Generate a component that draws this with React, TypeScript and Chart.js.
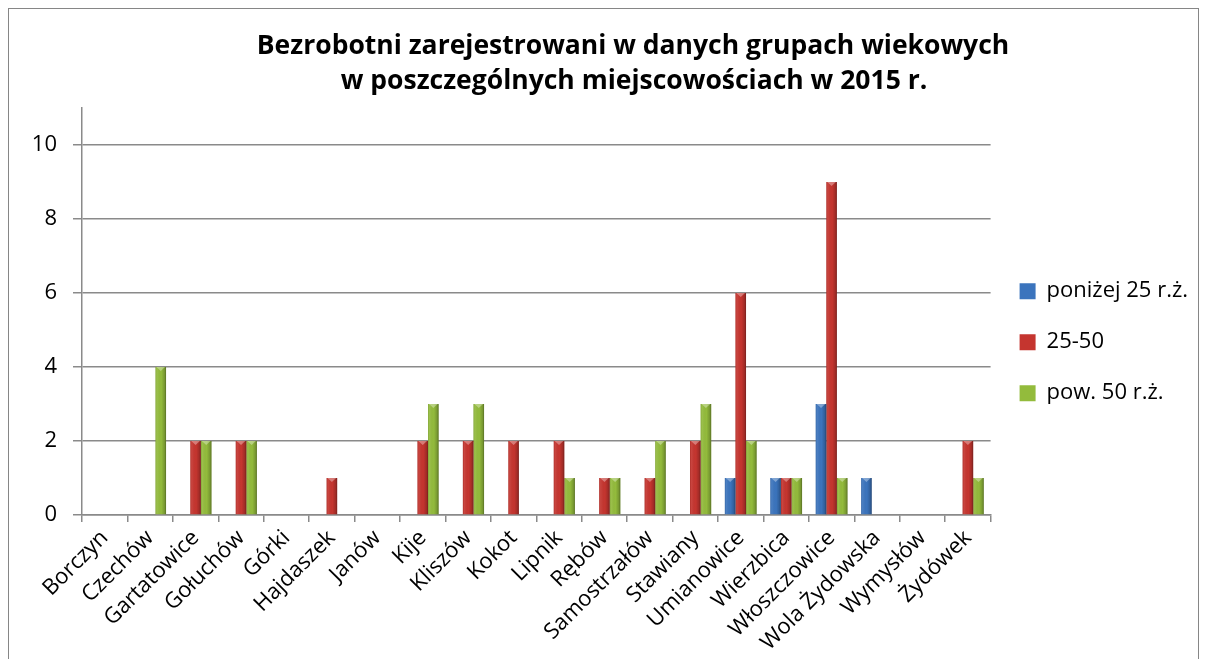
import React, { useEffect, useRef } from 'react';
import { Chart, registerables } from 'chart.js';

Chart.register(...registerables);

const categories = [
  'Borczyn', 'Czechów', 'Gartatowice', 'Gołuchów', 'Górki', 'Hajdaszek', 'Janów', 'Kije', 'Kliszów', 'Kokot',
  'Lipnik', 'Rębów', 'Samostrzałów', 'Stawiany', 'Umianowice', 'Wierzbica', 'Włoszczowice', 'Wola Żydowska', 'Wymysłów', 'Żydówek',
];
const under25 = [0, 0, 0, 0, 0, 0, 0, 0, 0, 0, 0, 0, 0, 0, 1, 1, 3, 1, 0, 0];
const age25to50 = [0, 0, 2, 2, 0, 1, 0, 2, 2, 2, 2, 1, 1, 2, 6, 1, 9, 0, 0, 2];
const over50 = [0, 4, 2, 2, 0, 0, 0, 3, 3, 0, 1, 1, 2, 3, 2, 1, 1, 0, 0, 1];
const seriesNames = ['poniżej 25 r.ż.', '25-50', 'pow. 50 r.ż.'];
const titleLines = ['Bezrobotni zarejestrowani w danych grupach wiekowych', 'w poszczególnych miejscowościach w 2015 r.'];
const yTickValues = [0, 2, 4, 6, 8, 10];

const FONT = '"Open Sans", sans-serif';
const GRID = '#8a8a8a';

const titlePlugin = {
  id: 'customTitle',
  afterDraw(chart: any) {
    const ctx = chart.ctx;
    ctx.save();
    ctx.fillStyle = '#000';
    ctx.font = `bold 26.5px ${FONT}`;
    ctx.textAlign = 'center';
    ctx.textBaseline = 'alphabetic';
    ctx.fillText(titleLines[0], 624, 45);
    ctx.fillText(titleLines[1], 625, 80);
    ctx.restore();
  },
};

const shadePlugin = {
  id: 'barShade',
  afterDatasetsDraw(chart: any) {
    const ctx = chart.ctx;
    ctx.save();
    chart.data.datasets.forEach((_: any, di: number) => {
      const meta = chart.getDatasetMeta(di);
      meta.data.forEach((el: any) => {
        const { x, y, base, width } = el.getProps(['x', 'y', 'base', 'width'], true);
        const h = base - y;
        if (h <= 0.5) return;
        const l = x - width / 2;
        const g = ctx.createLinearGradient(l, 0, l + width, 0);
        g.addColorStop(0, 'rgba(0,0,0,0.12)');
        g.addColorStop(0.15, 'rgba(255,255,255,0.08)');
        g.addColorStop(0.55, 'rgba(0,0,0,0)');
        g.addColorStop(0.85, 'rgba(0,0,0,0.18)');
        g.addColorStop(1, 'rgba(0,0,0,0.4)');
        ctx.fillStyle = g;
        ctx.fillRect(l, y, width, h);
        ctx.fillStyle = 'rgba(255,255,255,0.35)';
        ctx.beginPath();
        ctx.moveTo(l + 1, y);
        ctx.lineTo(l + width - 1, y);
        ctx.lineTo(x, y + Math.min(4, h));
        ctx.closePath();
        ctx.fill();
      });
    });
    ctx.restore();
  },
};

export default function App() {
  const ref = useRef<HTMLCanvasElement>(null);
  useEffect(() => {
    if (!ref.current) return;
    const chart = new Chart(ref.current, {
      type: 'bar',
      data: {
        labels: categories,
        datasets: [
          { label: seriesNames[0], data: under25, backgroundColor: '#3b74bd' },
          { label: seriesNames[1], data: age25to50, backgroundColor: '#c5352f' },
          { label: seriesNames[2], data: over50, backgroundColor: '#93bb3c' },
        ],
      },
      options: {
        responsive: false,
        animation: false,
        layout: { padding: { top: 99, left: 0, right: 0, bottom: 0 } },
        datasets: { bar: { categoryPercentage: 0.7, barPercentage: 1 } },
        plugins: {
          title: { display: false },
          tooltip: { enabled: false },
          legend: {
            position: 'right',
            align: 'start',
            maxWidth: 209,
            title: { display: true, text: ' ', padding: { top: 71, bottom: 71 }, font: { size: 1 } },
            labels: {
              boxWidth: 16,
              boxHeight: 16,
              padding: 29,
              color: '#000',
              font: { family: FONT, size: 22 },
            },
          },
        },
        scales: {
          x: {
            offset: true,
            grid: { offset: true, drawOnChartArea: false, tickLength: 7, color: GRID, lineWidth: 1.5 },
            border: { color: GRID, width: 1.5 },
            ticks: {
              autoSkip: false,
              maxRotation: 45,
              minRotation: 45,
              color: '#000',
              padding: 3,
              font: { family: FONT, size: 22 },
            },
            afterFit: (s: any) => { s.height = 152; },
          },
          y: {
            min: 0,
            max: 11,
            ticks: { stepSize: 2, color: '#000', padding: 16, font: { family: FONT, size: 22 } },
            grid: { color: GRID, lineWidth: 1.5, tickLength: 9 },
            border: { color: GRID, width: 1.5 },
            afterBuildTicks: (s: any) => { s.ticks = s.ticks.filter((t: any) => yTickValues.includes(t.value)); },
            afterFit: (s: any) => { s.width = 73; },
          },
        },
      },
      plugins: [titlePlugin, shadePlugin],
    });
    return () => chart.destroy();
  }, []);
  return (
    <div style={{ width: 1191, height: 660, border: '1px solid #868686', boxSizing: 'border-box', overflow: 'hidden' }}>
      <canvas ref={ref} width={1189} height={658} style={{ display: 'block' }} />
    </div>
  );
}
